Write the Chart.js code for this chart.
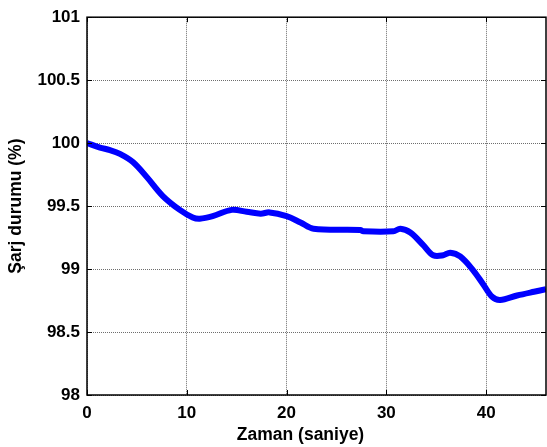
<!DOCTYPE html>
<html>
<head>
<meta charset="utf-8">
<script src="https://cdn.jsdelivr.net/npm/chart.js@4"></script>
<style>
  html, body { margin: 0; padding: 0; background: #fff; }
  #wrap { width: 547px; height: 447px; }
</style>
</head>
<body>
<div id="wrap"><canvas id="myChart" width="547" height="447"></canvas></div>
<script>
// state of charge over time
const zaman = [0, 1.3, 2.3, 3.3, 4.6, 6.0, 7.6, 9.3, 10.6, 11.3, 12.6, 14.5, 16.0, 17.4, 18.3, 20.0, 21.4, 22.7, 27.4, 27.7, 30.7, 31.4, 32.4, 33.7, 34.7, 35.7, 36.4, 37.4, 38.7, 39.7, 40.6, 41.4, 43.1, 44.8, 46.0]
const sarj = [100.0, 99.965, 99.945, 99.915, 99.85, 99.73, 99.58, 99.47, 99.41, 99.40, 99.42, 99.47, 99.455, 99.44, 99.45, 99.42, 99.37, 99.32, 99.31, 99.30, 99.30, 99.32, 99.29, 99.19, 99.11, 99.11, 99.13, 99.10, 98.99, 98.88, 98.78, 98.755, 98.79, 98.82, 98.84]

const xTicks = [0, 10, 20, 30, 40]
const yTicks = [98, 98.5, 99, 99.5, 100, 100.5, 101]
const xLabel = 'Zaman (saniye)'

const fontFamily = "'Liberation Sans', Arial, sans-serif"
const font = { family: fontFamily, weight: 'bold' }

// box around the plot, MATLAB style inward tick marks and the x label
const axesBox = {
  id: 'axesBox',
  afterDraw(chart) {
    const { ctx, chartArea: a, scales } = chart
    ctx.save()
    ctx.strokeStyle = '#000'
    ctx.lineWidth = 1
    ctx.beginPath()
    xTicks.forEach((v) => {
      let px = Math.round(scales.x.getPixelForValue(v)) + 0.5
      ctx.moveTo(px, a.bottom); ctx.lineTo(px, a.bottom - 5)
      ctx.moveTo(px, a.top); ctx.lineTo(px, a.top + 5)
    })
    yTicks.forEach((v) => {
      let py = Math.round(scales.y.getPixelForValue(v)) + 0.5
      ctx.moveTo(a.left, py); ctx.lineTo(a.left + 5, py)
      ctx.moveTo(a.right, py); ctx.lineTo(a.right - 5, py)
    })
    ctx.stroke()
    ctx.lineWidth = 1.5
    ctx.strokeRect(a.left, a.top, a.right - a.left, a.bottom - a.top)

    ctx.fillStyle = '#000'
    ctx.font = 'bold 17.5px ' + fontFamily
    ctx.textAlign = 'center'
    ctx.textBaseline = 'alphabetic'
    ctx.fillText(xLabel, (a.left + a.right) / 2 - 16, 440)
    ctx.restore()
  }
}

let ctx = document.getElementById('myChart').getContext('2d')

let chart = new Chart(ctx, {
  type: 'line',
  data: {
    datasets: [{
      data: zaman.map((t, i) => { return { x: t, y: sarj[i] } }),
      borderColor: '#0000ff',
      backgroundColor: '#0000ff',
      borderWidth: 6,
      pointRadius: 0,
      tension: 0.35,
      fill: false
    }]
  },
  options: {
    responsive: false,
    animation: false,
    layout: { padding: { top: 15, right: 1, left: 0, bottom: 0 } },
    plugins: { legend: { display: false }, tooltip: { enabled: false } },
    scales: {
      x: {
        type: 'linear',
        min: 0,
        max: 46,
        afterBuildTicks: (s) => { s.ticks = xTicks.map(v => ({ value: v })) },
        afterFit: (s) => { s.height = 52 },
        grid: { color: '#6e6e6e', drawTicks: false, lineWidth: 1 },
        border: { display: false, dash: [1, 1] },
        ticks: { color: '#000', padding: 8, font: { ...font, size: 17 } }
      },
      y: {
        min: 98,
        max: 101,
        afterBuildTicks: (s) => { s.ticks = yTicks.map(v => ({ value: v })) },
        afterFit: (s) => { s.width = 87 },
        grid: { color: '#6e6e6e', drawTicks: false, lineWidth: 1 },
        border: { display: false, dash: [1, 1] },
        ticks: {
          color: '#000',
          padding: 7,
          font: { ...font, size: 17 },
          callback: (v) => String(v)
        },
        title: {
          display: true,
          text: 'Şarj durumu (%)',
          color: '#000',
          padding: 6,
          font: { ...font, size: 17.5 }
        }
      }
    }
  },
  plugins: [axesBox]
})
</script>
</body>
</html>
